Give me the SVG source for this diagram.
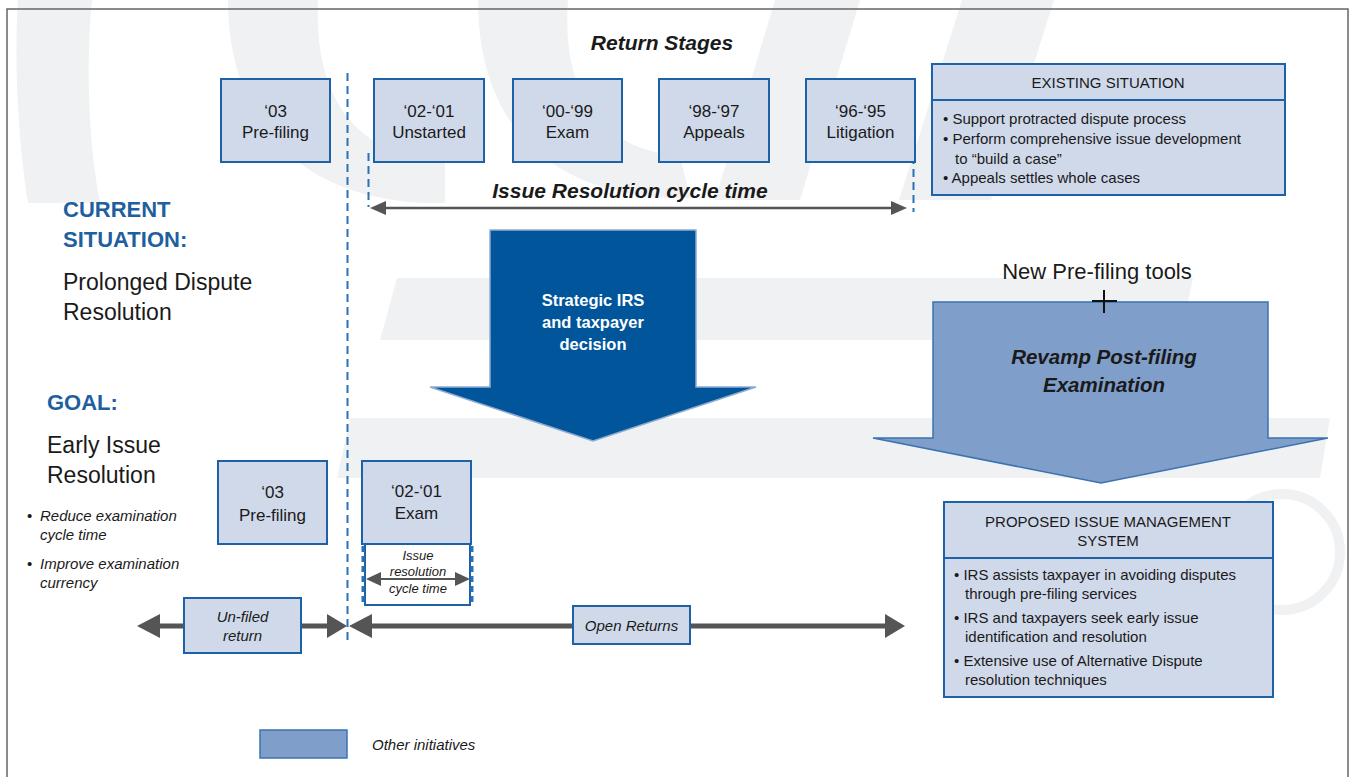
<svg xmlns="http://www.w3.org/2000/svg" width="1351" height="777" viewBox="0 0 1351 777">
<defs>
<style>
.wm{fill:#f0f1f3;stroke:none}
.box{fill:#d0d9ea;stroke:#1d62a6;stroke-width:2}
.t{font-family:"Liberation Sans",Arial,sans-serif;fill:#1a1a1a}
.c{text-anchor:middle}
.bi{font-weight:bold;font-style:italic}
.it{font-style:italic}
.blue{fill:#1f5fa0;font-weight:bold}
.dash{stroke:#2a72b8;stroke-width:2;stroke-dasharray:8 5;fill:none}
.gl{stroke:#555;fill:none}
.gh{fill:#555;stroke:none}
</style>
</defs>
<rect width="1351" height="777" fill="#ffffff"/>
<g id="watermark">
<path class="wm" d="M18,0 L92,0 C86,60 88,140 100,203 L28,203 C18,140 14,60 18,0 Z"/>
<path class="wm" d="M228,0 L318,0 C314,90 350,158 445,160 L445,203 C300,206 228,120 228,0 Z"/>
<path class="wm" d="M478,0 L568,0 C562,80 590,148 680,156 L690,198 C545,200 478,120 478,0 Z"/>
<path class="wm" d="M775,0 L860,0 L800,200 L715,200 Z"/>
<path class="wm" d="M962,0 L1054,0 L991,200 L899,200 Z"/>
<path class="wm" d="M397,278 L1193,278 L1180,340 L380,340 Z"/>
<path class="wm" d="M350,418 L1330,418 L1320,478 L337,478 Z"/>
<circle cx="1282" cy="552" r="58" fill="none" stroke="#f0f1f3" stroke-width="10"/>
</g>
<rect x="7" y="9" width="1341" height="790" fill="none" stroke="#666" stroke-width="1.5"/>

<g id="connectors">
<line class="dash" x1="347.5" y1="73" x2="347.5" y2="643"/>
<line class="dash" x1="368.5" y1="153" x2="368.5" y2="207"/>
<line class="dash" x1="913.5" y1="156" x2="913.5" y2="212"/>
<line class="gl" x1="384" y1="208" x2="893" y2="208" stroke-width="2.5"/>
<path class="gh" d="M370,208 L386,201 L386,215 Z"/>
<path class="gh" d="M907,208 L891,201 L891,215 Z"/>
<line class="gl" x1="158" y1="626" x2="330" y2="626" stroke-width="5"/>
<path class="gh" d="M137,626 L160,614 L160,638 Z"/>
<path class="gh" d="M347,626 L327,614 L327,638 Z"/>
<line class="gl" x1="370" y1="626" x2="887" y2="626" stroke-width="5"/>
<path class="gh" d="M349,626 L372,614 L372,638 Z"/>
<path class="gh" d="M905,626 L885,614 L885,638 Z"/>
</g>

<g id="title"><text class="t bi c" x="662" y="50" font-size="21">Return Stages</text></g>

<g id="n-prefiling-top"><rect class="box" x="221" y="79" width="109" height="83"/>
<text class="t c" x="275.5" y="117" font-size="17">‘03</text><text class="t c" x="275.5" y="138" font-size="17">Pre-filing</text></g>
<g id="n-unstarted"><rect class="box" x="374" y="79" width="110" height="83"/>
<text class="t c" x="429" y="117" font-size="17">‘02-‘01</text><text class="t c" x="429" y="138" font-size="17">Unstarted</text></g>
<g id="n-exam-top"><rect class="box" x="513" y="79" width="109" height="83"/>
<text class="t c" x="567.5" y="117" font-size="17">‘00-‘99</text><text class="t c" x="567.5" y="138" font-size="17">Exam</text></g>
<g id="n-appeals"><rect class="box" x="659" y="79" width="110" height="83"/>
<text class="t c" x="714" y="117" font-size="17">‘98-‘97</text><text class="t c" x="714" y="138" font-size="17">Appeals</text></g>
<g id="n-litigation"><rect class="box" x="806" y="79" width="109" height="83"/>
<text class="t c" x="860.5" y="117" font-size="17">‘96-‘95</text><text class="t c" x="860.5" y="138" font-size="17">Litigation</text></g>

<g id="cycle-label"><text class="t bi c" x="630" y="198" font-size="21">Issue Resolution cycle time</text></g>

<g id="existing">
<rect class="box" x="932" y="64" width="353" height="131"/>
<line x1="932" y1="100" x2="1285" y2="100" stroke="#1d62a6" stroke-width="2"/>
<text class="t c" x="1108" y="88" font-size="15">EXISTING SITUATION</text>
<text class="t" x="943" y="124" font-size="15">• Support protracted dispute process</text>
<text class="t" x="943" y="144" font-size="15">• Perform comprehensive issue development</text>
<text class="t" x="955" y="164" font-size="15">to “build a case”</text>
<text class="t" x="943" y="183" font-size="15">• Appeals settles whole cases</text>
</g>

<g id="current">
<text class="t blue" x="63" y="217" font-size="22">CURRENT</text>
<text class="t blue" x="63" y="247" font-size="22">SITUATION:</text>
<text class="t" x="63" y="290" font-size="23">Prolonged Dispute</text>
<text class="t" x="63" y="320" font-size="23">Resolution</text>
</g>

<g id="strategic">
<path d="M490,230 L696,230 L696,387 L756,387 L593,441 L430,387 L490,387 Z" fill="#00559b" stroke="#8faad2" stroke-width="1.5"/>
<text class="c" x="593" y="306" font-size="16.5" font-weight="bold" fill="#ffffff" font-family="Liberation Sans, Arial, sans-serif">Strategic IRS</text>
<text class="c" x="593" y="328" font-size="16.5" font-weight="bold" fill="#ffffff" font-family="Liberation Sans, Arial, sans-serif">and taxpayer</text>
<text class="c" x="593" y="350" font-size="16.5" font-weight="bold" fill="#ffffff" font-family="Liberation Sans, Arial, sans-serif">decision</text>
</g>

<g id="prefiling-tools">
<text class="t c" x="1097" y="279" font-size="22">New Pre-filing tools</text>
</g>

<g id="revamp">
<path d="M933,302 L1268,302 L1268,438 L1328,438 L1101,483 L873,438 L933,438 Z" fill="#7f9fca" stroke="#3a73b3" stroke-width="1.5"/>
<path d="M1092,301 L1117,301 M1104,290 L1104,313" stroke="#111" stroke-width="2" fill="none"/>
<text class="t bi c" x="1104" y="364" font-size="20.5" fill="#000">Revamp Post-filing</text>
<text class="t bi c" x="1104" y="392" font-size="20.5" fill="#000">Examination</text>
</g>

<g id="goal">
<text class="t blue" x="47" y="410" font-size="22">GOAL:</text>
<text class="t" x="47" y="453" font-size="23">Early Issue</text>
<text class="t" x="47" y="483" font-size="23">Resolution</text>
<text class="t" x="27" y="521" font-size="15">•</text>
<text class="t it" x="40" y="521" font-size="15">Reduce examination</text>
<text class="t it" x="40" y="540" font-size="15">cycle time</text>
<text class="t" x="27" y="569" font-size="15">•</text>
<text class="t it" x="40" y="569" font-size="15">Improve examination</text>
<text class="t it" x="40" y="588" font-size="15">currency</text>
</g>

<g id="n-prefiling-bottom"><rect class="box" x="218" y="461" width="109" height="83"/>
<text class="t c" x="272.5" y="498" font-size="17">‘03</text><text class="t c" x="272.5" y="521" font-size="17">Pre-filing</text></g>
<g id="n-exam-bottom"><rect class="box" x="362" y="461" width="109" height="83"/>
<text class="t c" x="416.5" y="497" font-size="17">‘02-‘01</text><text class="t c" x="416.5" y="519" font-size="17">Exam</text></g>

<g id="n-issue-res">
<rect x="365" y="544" width="105" height="61" fill="#ffffff" stroke="#1d62a6" stroke-width="2"/>
<line x1="363" y1="546" x2="363" y2="604" stroke="#2a72b8" stroke-width="3" stroke-dasharray="6 4"/>
<line x1="472" y1="546" x2="472" y2="604" stroke="#2a72b8" stroke-width="3" stroke-dasharray="6 4"/>
<line class="gl" x1="378" y1="579" x2="458" y2="579" stroke-width="2"/>
<path class="gh" d="M366,579 L381,572 L381,586 Z"/>
<path class="gh" d="M470,579 L455,572 L455,586 Z"/>
<text class="t it c" x="418" y="560" font-size="13">Issue</text>
<text class="t it c" x="418" y="576" font-size="13">resolution</text>
<text class="t it c" x="418" y="593" font-size="13">cycle time</text>
</g>

<g id="n-unfiled"><rect class="box" x="184" y="598" width="117" height="55"/>
<text class="t it c" x="242.5" y="622" font-size="15">Un-filed</text><text class="t it c" x="242.5" y="641" font-size="15">return</text></g>
<g id="n-open"><rect class="box" x="573" y="606" width="117" height="38"/>
<text class="t it c" x="631.5" y="631" font-size="15">Open Returns</text></g>

<g id="proposed">
<rect class="box" x="944" y="502" width="329" height="195"/>
<line x1="944" y1="558" x2="1273" y2="558" stroke="#1d62a6" stroke-width="2"/>
<text class="t c" x="1108" y="527" font-size="15">PROPOSED ISSUE MANAGEMENT</text>
<text class="t c" x="1108" y="546" font-size="15">SYSTEM</text>
<text class="t" x="954" y="580" font-size="15">• IRS assists taxpayer in avoiding disputes</text>
<text class="t" x="965" y="599" font-size="15">through pre-filing services</text>
<text class="t" x="954" y="623" font-size="15">• IRS and taxpayers seek early issue</text>
<text class="t" x="965" y="642" font-size="15">identification and resolution</text>
<text class="t" x="954" y="666" font-size="15">• Extensive use of Alternative Dispute</text>
<text class="t" x="965" y="685" font-size="15">resolution techniques</text>
</g>

<g id="legend">
<rect x="260" y="730" width="87" height="28" fill="#7f9fca" stroke="#3a73b3" stroke-width="1.5"/>
<text class="t it" x="372" y="750" font-size="15">Other initiatives</text>
</g>
</svg>
